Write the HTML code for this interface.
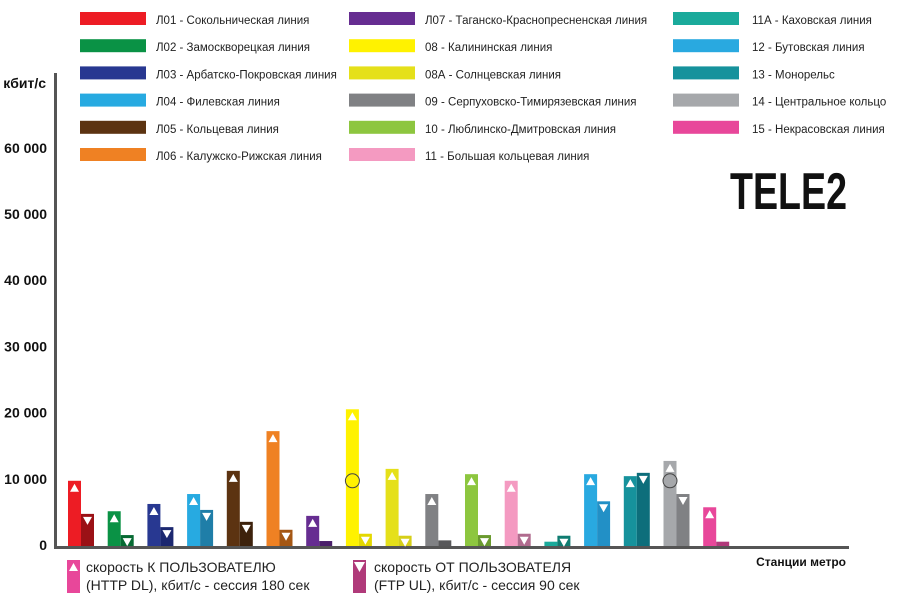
<!DOCTYPE html>
<html><head><meta charset="utf-8"><style>
body{margin:0;background:#fff;}
svg{display:block;font-family:"Liberation Sans","DejaVu Sans",sans-serif;}
</style></head><body>
<svg id="c" width="900" height="600" viewBox="0 0 900 600">
<g id="legend"></g>
<g id="axes">
<rect x="54" y="73" width="3" height="476" fill="#555"/>
<rect x="54" y="546" width="795" height="3" fill="#555"/>
<text x="46" y="88" text-anchor="end" font-size="14" font-weight="bold" fill="#111">кбит/с</text>
<text x="846" y="566" text-anchor="end" font-size="12" font-weight="bold" fill="#111">Станции метро</text>
</g>
<g id="bars"></g>
<text x="730" y="209" font-size="52" font-weight="900" fill="#111" textLength="117" lengthAdjust="spacingAndGlyphs">TELE2</text>
<g>
<rect x="67" y="560" width="13" height="33" fill="#e8479a"/>
<polygon points="69,571 78,571 73.5,563" fill="#fff"/>
<text x="86" y="572" font-size="14" fill="#222">скорость К ПОЛЬЗОВАТЕЛЮ</text>
<text x="86" y="590" font-size="14" fill="#222">(HTTP DL), кбит/с - сессия 180 сек</text>
<rect x="353" y="560" width="13" height="33" fill="#b03a7a"/>
<polygon points="354,562 365,562 359.5,572" fill="#fff"/>
<text x="374" y="572" font-size="14" fill="#222">скорость ОТ ПОЛЬЗОВАТЕЛЯ</text>
<text x="374" y="590" font-size="14" fill="#222">(FTP UL), кбит/с - сессия 90 сек</text>
</g>
</svg>
<script>
const lines=["Л01 - Сокольническая линия","Л02 - Замоскворецкая линия","Л03 - Арбатско-Покровская линия","Л04 - Филевская линия","Л05 - Кольцевая линия","Л06 - Калужско-Рижская линия","Л07 - Таганско-Краснопресненская линия","08 - Калининская линия","08А - Солнцевская линия","09 - Серпуховско-Тимирязевская линия","10 - Люблинско-Дмитровская линия","11 - Большая кольцевая линия","11А - Каховская линия","12 - Бутовская линия","13 - Монорельс","14 - Центральное кольцо","15 - Некрасовская линия"];
const colors=["#ed1c24","#0a9245","#283891","#27aae1","#5c3311","#ef8123","#662d91","#fff200","#e5e01a","#808184","#8dc63f","#f49ac1","#1aaa9b","#29a9e0","#16929c","#a6a8ab","#e8479a"];
const ulColors=["#9b1116","#076a33","#1c2870","#1f7ea8","#3d220c","#a55714","#4a1f6a","#e4d800","#d6cf18","#58585a","#6a9a2e","#b06b8e","#0f7c71","#2290c6","#0d6e7b","#808184","#b03a7a"];
const dlValues=[9.7,5.1,6.2,7.7,11.2,17.2,4.4,20.5,11.5,7.7,10.7,9.7,0.5,10.7,10.4,12.7,5.7];
const ulValues=[4.7,1.5,2.7,5.3,3.5,2.3,0.6,1.7,1.4,0.7,1.5,1.7,1.4,6.6,10.9,7.7,0.5];
const medianIdx=[7,15];
const medianVal=[9.7,9.7];
const yTicks=[0,10,20,30,40,50,60];
const yTickLabels=["0","10 000","20 000","30 000","40 000","50 000","60 000"];
const NS="http://www.w3.org/2000/svg";
const y=v=>545-v*6.62;
const x=i=>68+i*39.7;
function mk(t,a,p){const e=document.createElementNS(NS,t);for(const k in a)e.setAttribute(k,a[k]);p.appendChild(e);return e;}
const axes=document.getElementById('axes');
yTicks.forEach((v,i)=>{const t=mk('text',{x:47,y:y(v)+5,'text-anchor':'end','font-size':14,'font-weight':'bold',fill:'#111'},axes);t.textContent=yTickLabels[i];

});
const bars=document.getElementById('bars');
dlValues.forEach((v,i)=>{
const x0=x(i);
const b=mk('rect',{x:x0,y:y(v),width:13,height:545-y(v)+1,fill:colors[i]},bars);


const u=ulValues[i];
const b2=mk('rect',{x:x0+13,y:y(u),width:13,height:545-y(u)+1,fill:ulColors[i]},bars);


if(v>2){mk('polygon',{points:`${x0+2},${y(v)+11} ${x0+11},${y(v)+11} ${x0+6.5},${y(v)+3}`,fill:'#fff'},bars);}
if(u>1.2){mk('polygon',{points:`${x0+15},${y(u)+3} ${x0+24},${y(u)+3} ${x0+19.5},${y(u)+11}`,fill:'#fff'},bars);}
});
medianIdx.forEach((i,k)=>{const c=mk('circle',{cx:x(i)+6.5,cy:y(medianVal[k]),r:7,fill:'none',stroke:'#444','stroke-width':1},bars);

});
const lg=document.getElementById('legend');
const colX=[80,349,673],txX=[156,425,752];
lines.forEach((n,i)=>{const c=i<6?0:(i<12?1:2);const r=c==0?i:(c==1?i-6:i-12);
const yy=12+r*27.2;
const s=mk('rect',{x:colX[c],y:yy,width:66,height:13,fill:colors[i]},lg);


const t=mk('text',{x:txX[c],y:yy+12,'font-size':11.5,fill:'#222'},lg);t.textContent=n;

});
</script>
</body></html>
